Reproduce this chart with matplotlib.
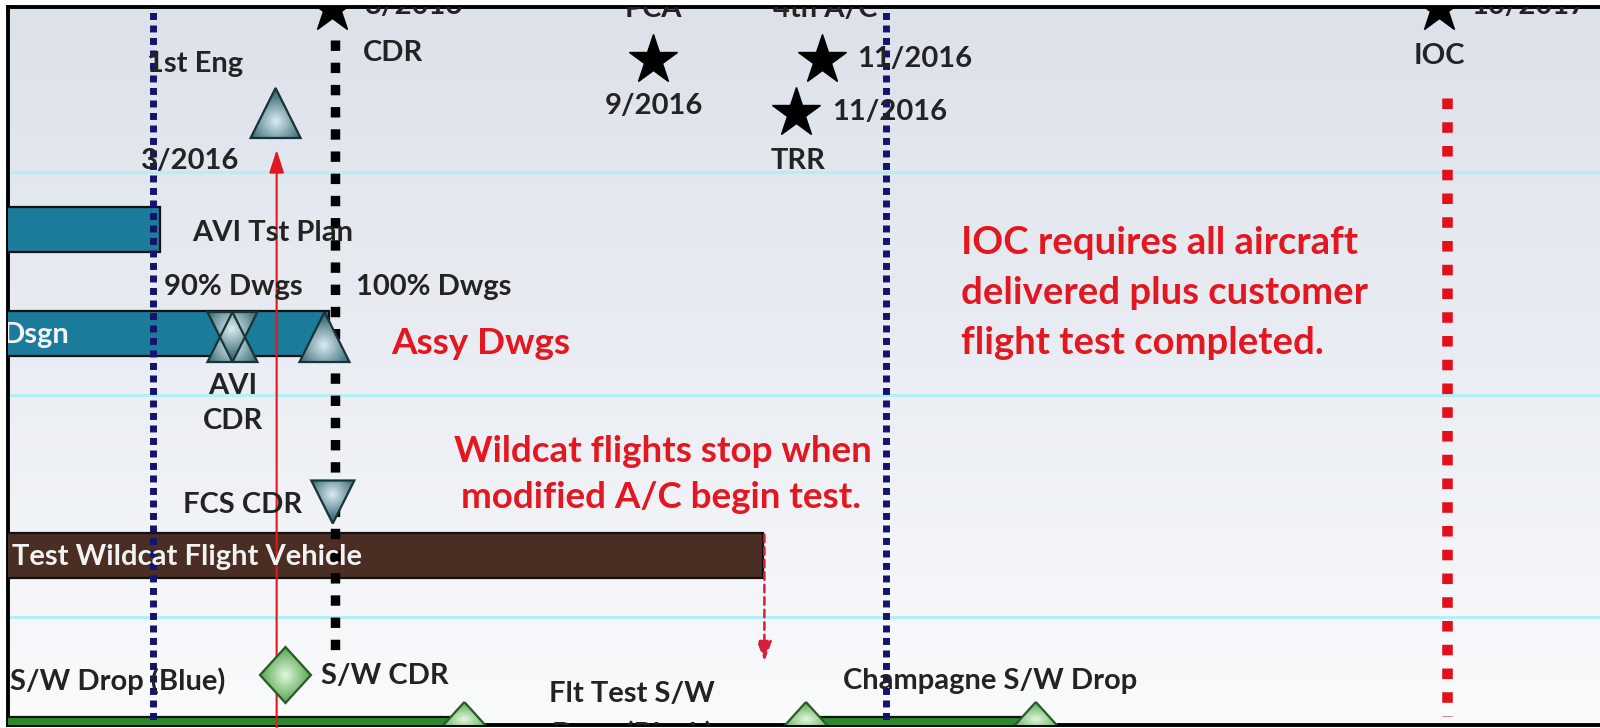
import matplotlib
matplotlib.use("Agg")
import matplotlib.pyplot as plt
import numpy as np
from matplotlib.colors import LinearSegmentedColormap
from matplotlib.patches import Polygon

# Timeline: x is schedule position in months from the left edge of the page,
# y is the vertical row position (1 unit = 100 px, counted from the top).
PX_PER_MONTH = 52.0
PX_PER_ROW = 100.0

# ---- task bars ----
bar_names = ["", "Dsgn", "Test Wildcat Flight Vehicle", "", ""]
bar_start = [-1.0, -1.0, -1.0, -1.0, 15.5]
bar_end = [3.08, 6.32, 14.68, 8.93, 19.92]
bar_row = [2.295, 3.33, 5.555, 7.32, 7.32]
bar_colors = ["#1b7b9b", "#1b7b9b", "#4a2d23", "#2a8a2b", "#2a8a2b"]

# ---- star milestones ----
star_names = ["CDR", "PCA", "4th A/C", "TRR", "IOC"]
star_dates = ["3/2016", "9/2016", "11/2016", "11/2016", "10/2017"]
star_x = [6.38, 12.56, 15.80, 15.30, 27.67]
star_row = [0.08, 0.60, 0.60, 1.13, 0.08]

# ---- triangle / diamond events ----
up_tri_x = [5.30, 4.47, 6.24]
up_tri_row = [1.13, 3.37, 3.37]
down_tri_x = [4.47, 6.40]
down_tri_row = [3.37, 5.02]
diamond_x = [5.49]
diamond_row = [6.75]
drop_x = [8.93, 15.50, 19.92]
drop_row = [7.19, 7.19, 7.19]

# ---- reference lines ----
vline_x = [2.94, 6.44, 17.03, 27.83]
vline_top = [0.0, 0.40, 0.0, 0.98]
vline_bottom = [7.3, 6.55, 7.3, 7.16]
hline_rows = [1.72, 3.95, 6.17]

# ---- text labels ----
black_text = ["1st Eng", "3/2016", "AVI Tst Plan", "90% Dwgs", "100% Dwgs",
              "AVI", "CDR", "FCS CDR", "Flt Test S/W", "Drop (Black)",
              "Champagne S/W Drop"]
black_x = [195, 190, 273, 233, 434, 233, 233, 243, 632, 632, 990]
black_y = [64, 161, 233, 287, 287, 386, 421, 505, 694, 734, 681]
left_text = ["S/W Drop (Blue)", "S/W CDR"]
left_x = [10, 321]
left_y = [681, 676]
red_text = ["Assy Dwgs", "Wildcat flights stop when", "modified A/C begin test."]
red_x = [481, 663, 661]
red_y = [343, 452, 497]
ioc_note = ["IOC requires all aircraft", "delivered plus customer",
            "flight test completed."]
ioc_note_y = [243, 293, 343]

W, H = 1600, 728
TOP, BOTTOM, LEFT = 7, 725, 8
fig = plt.figure(figsize=(W / 100, H / 100), dpi=100)
fig.patch.set_facecolor("white")
ax = fig.add_axes([LEFT / W, (H - BOTTOM) / H, (W - LEFT) / W, (BOTTOM - TOP) / H])
xlim = (LEFT / PX_PER_MONTH, W / PX_PER_MONTH)
ylim = (BOTTOM / PX_PER_ROW, TOP / PX_PER_ROW)
ax.set_xticks([])
ax.set_yticks([])
for side in ("left", "top", "bottom"):
    ax.spines[side].set_linewidth(2.8)
    ax.spines[side].set_color("black")
ax.spines["right"].set_visible(False)

# soft vertical gradient background
cmap = LinearSegmentedColormap.from_list("bg", ["#dce1ea", "#eaedf3", "#fafbfc"])
grad = np.linspace(0, 1, 256).reshape(-1, 1)
ax.imshow(grad, cmap=cmap, aspect="auto", zorder=0,
          extent=[0, W / PX_PER_MONTH, 7.3, 0.0])

FONT = "Lato"
fs_black = 21
fs_red = 26.5
fs_note = 27.5
txt_col = "#232323"
red_col = "#e3171f"

# horizontal row separators
for r in hline_rows:
    ax.axhline(r, color="#b4f0f3", lw=2.2, zorder=1)

# vertical dotted status lines
vstyles = [
    dict(color="#14146c", lw=5.0, ls=(0, (1.0, 0.8))),
    dict(color="#000000", lw=6.8, ls=(0, (1.1, 1.25))),
    dict(color="#14146c", lw=5.0, ls=(0, (1.0, 0.8))),
    dict(color="#e2101b", lw=7.6, ls=(0, (1.0, 1.25))),
]
for x, t, b, st in zip(vline_x, vline_top, vline_bottom, vstyles):
    ax.plot([x, x], [t, b], zorder=4, **st)

# bars
for name, s, e, r, c in zip(bar_names, bar_start, bar_end, bar_row, bar_colors):
    h = 0.30 if r > 7 else 0.45
    ax.barh(r, e - s, left=s, height=h, color=c, edgecolor="#111111",
            linewidth=1.6, zorder=3)
    if name:
        ax.text(0.06 if name == "Dsgn" else 0.23, r + 0.02, name, color="#f2f2f2",
                fontsize=fs_black, fontweight="bold", family=FONT,
                ha="left", va="center", zorder=6, clip_on=True)

# red arrow (status date) and dashed arrow
ax.annotate("", xy=(5.32, 1.47), xytext=(5.32, 7.4),
            arrowprops=dict(arrowstyle="-|>,head_length=1.4,head_width=0.45",
                            color="#e3171f", lw=1.5), zorder=5)
ax.annotate("", xy=(14.70, 6.64), xytext=(14.70, 5.32),
            arrowprops=dict(arrowstyle="-|>,head_length=1.2,head_width=0.45",
                            color="#d81c3c", lw=1.8, ls=(0, (3, 2))), zorder=5)


SHAPES = {
    "up": [(0, -1), (-1, 1), (1, 1)],
    "down": [(0, 1), (-1, -1), (1, -1)],
    "diamond": [(0, -1), (1, 0), (0, 1), (-1, 0)],
    "flat": [(0, -1), (-1.1, 1), (1.1, 1)],
}


def shaded_marker(x, y, shape, w_px, h_px, inner, outer, edge, z=7):
    """Polygon marker with a radial gradient fill (y axis points down)."""
    hw = w_px / 2 / PX_PER_MONTH
    hh = h_px / 2 / PX_PER_ROW
    verts = [(x + vx * hw, y + vy * hh) for vx, vy in SHAPES[shape]]
    cy = y + (hh / 3 if shape == "up" else -hh / 3 if shape == "down" else 0)
    gx, gy = np.meshgrid(np.linspace(-1, 1, 80), np.linspace(-1, 1, 80))
    rr = np.sqrt(gx ** 2 + ((gy * hh + y - cy) / hh) ** 2)
    cm = LinearSegmentedColormap.from_list("m", [inner, outer])
    im = ax.imshow(rr, cmap=cm, vmin=0.05, vmax=1.15, aspect="auto", zorder=z,
                   extent=[x - hw, x + hw, y + hh, y - hh], interpolation="bilinear")
    poly = Polygon(verts, closed=True, facecolor="none", edgecolor=edge,
                   lw=1.6, zorder=z + 0.1)
    ax.add_patch(poly)
    im.set_clip_path(poly)


teal = ("#d3e8ec", "#3b6a74", "#183439")
green = ("#dcf3d6", "#3f9a3a", "#2a5a28")
for x, y in zip(up_tri_x, up_tri_row):
    shaded_marker(x, y, "up", 50, 50, *teal)
for i, (x, y) in enumerate(zip(down_tri_x, down_tri_row)):
    size = 50 if i == 0 else 43
    shaded_marker(x, y, "down", size, size, *teal)
for x, y in zip(diamond_x, diamond_row):
    shaded_marker(x, y, "diamond", 51, 56, *green)
for x, y in zip(drop_x, drop_row):
    shaded_marker(x, y, "flat", 56, 34, *green)

# stars
ax.plot(star_x, star_row, ls="none", marker="*", ms=37, color="black", zorder=8)


def lab(x_px, y_px, s, ha="center", color=txt_col, size=fs_black):
    ax.text(x_px / PX_PER_MONTH, y_px / PX_PER_ROW, s, ha=ha, va="center",
            color=color, fontsize=size, fontweight="bold", family=FONT,
            zorder=9, clip_on=True)


# star labels
star_lab_pos = [((393, 53, "center"), (365, 6, "left")),
                ((653, 9, "center"), (654, 106, "center")),
                ((825, 9, "center"), (857, 59, "left")),
                ((798, 161, "center"), (832, 112, "left")),
                ((1439, 56, "center"), (1471, 6, "left"))]
for name, date, (pn, pd) in zip(star_names, star_dates, star_lab_pos):
    lab(pn[0], pn[1], name, ha=pn[2])
    lab(pd[0], pd[1], date, ha=pd[2])

for s, x, y in zip(black_text, black_x, black_y):
    lab(x, y, s)
for s, x, y in zip(left_text, left_x, left_y):
    lab(x, y, s, ha="left")
for s, x, y in zip(red_text, red_x, red_y):
    lab(x, y, s, color=red_col, size=fs_red)
for s, y in zip(ioc_note, ioc_note_y):
    lab(961, y, s, ha="left", color=red_col, size=fs_note)

ax.set_xlim(*xlim)
ax.set_ylim(*ylim)
fig.savefig("out.png", dpi=100)
